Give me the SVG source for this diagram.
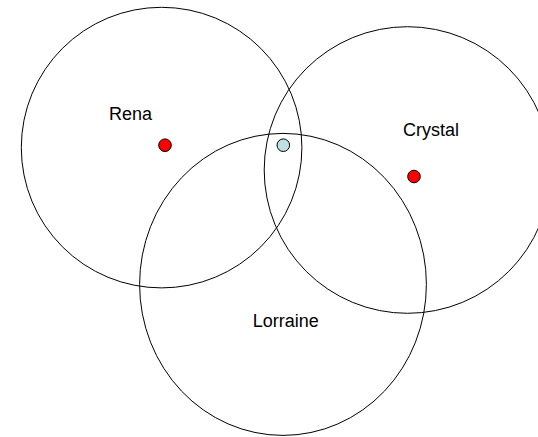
<svg xmlns="http://www.w3.org/2000/svg" width="538" height="437" viewBox="0 0 538 437">
<style>
.ring{fill:none;stroke:#000;stroke-width:1}
.dot{stroke:#000;stroke-width:1}
.red{fill:#ff0000}
.blue{fill:#bfe0e2}
.lbl{font-family:"Liberation Sans",Arial,sans-serif;font-size:18px;fill:#000}
</style>
<rect width="538" height="437" fill="#fff"/>
<g id="rena">
<circle class="ring" cx="161.6" cy="147.6" r="140.3"/>
<circle class="dot red" cx="165" cy="145.2" r="6.3"/>
<text class="lbl" x="109" y="120">Rena</text>
</g>
<g id="crystal">
<circle class="ring" cx="407.5" cy="170" r="143.3"/>
<circle class="dot red" cx="414" cy="176.5" r="6.3"/>
<text class="lbl" x="403" y="136">Crystal</text>
</g>
<g id="lorraine">
<ellipse class="ring" cx="283" cy="284.4" rx="143.4" ry="151"/>
<text class="lbl" x="252.7" y="326.5">Lorraine</text>
</g>
<g id="intersection">
<circle class="dot blue" cx="283.3" cy="145.2" r="6.3"/>
</g>
<g id="connectors"></g>
</svg>
